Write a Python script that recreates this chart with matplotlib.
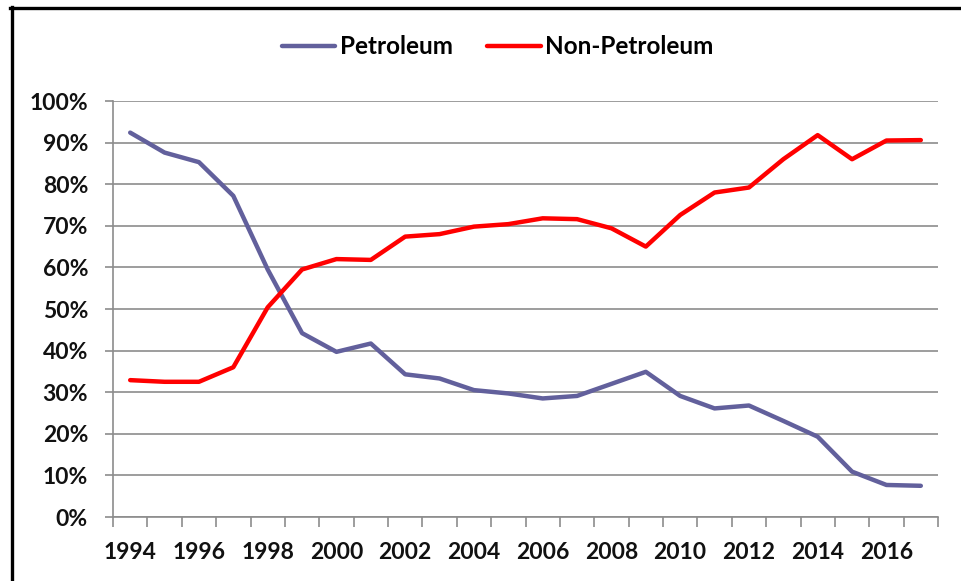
import matplotlib
matplotlib.use("Agg")
import matplotlib.pyplot as plt
from matplotlib.lines import Line2D
from matplotlib.ticker import FixedLocator, NullFormatter

years = list(range(1994, 2018))
petroleum = [92.4, 87.6, 85.3, 77.2, 59.5, 44.2, 39.7, 41.7, 34.3, 33.3, 30.5, 29.7,
             28.5, 29.1, 32.0, 34.9, 29.1, 26.1, 26.8, 23.1, 19.3, 10.9, 7.7, 7.5]
non_petroleum = [32.9, 32.5, 32.5, 36.0, 50.4, 59.5, 62.0, 61.8, 67.4, 68.0, 69.8, 70.4,
                 71.8, 71.6, 69.4, 65.0, 72.6, 78.0, 79.2, 86.0, 91.8, 86.0, 90.5, 90.6]
y_ticks = list(range(0, 101, 10))
y_tick_labels = [f"{v}%" for v in y_ticks]
x_label_years = years[::2]

plt.rcParams['font.family'] = ['Lato', 'DejaVu Sans']
plt.rcParams['font.weight'] = 'bold'

fig = plt.figure(figsize=(9.61, 5.81), dpi=100)
ax = fig.add_axes([113/961, 1 - 517/581, (938 - 113)/961, (517 - 101)/581])

xs = list(range(len(years)))
ax.plot(xs, petroleum, color='#62609C', lw=3.2, label='Petroleum', solid_capstyle='round', zorder=3)
ax.plot(xs, non_petroleum, color='#FF0000', lw=3.2, label='Non-Petroleum', solid_capstyle='round', zorder=3)

ax.set_xlim(-0.5, len(years) - 0.5)
ax.set_ylim(0, 100)

grid_c = '#8C8C8C'
ax.set_yticks(y_ticks)
ax.set_yticklabels(y_tick_labels, fontsize=16.5, fontweight='bold', color='#111111')
ax.yaxis.grid(True, color=grid_c, lw=1.2)
ax.tick_params(axis='y', length=6, width=1.2, color=grid_c, pad=12)

# category boundaries as major ticks (marks), labels at centers as minor ticks
ax.xaxis.set_major_locator(FixedLocator([i - 0.5 for i in range(len(years) + 1)]))
ax.xaxis.set_major_formatter(NullFormatter())
ax.xaxis.set_minor_locator(FixedLocator([years.index(y) for y in x_label_years]))
ax.set_xticklabels([str(y) for y in x_label_years], minor=True, fontsize=16.5,
                   fontweight='bold', color='#111111')
ax.tick_params(axis='x', which='major', length=7, width=1.2, color=grid_c)
ax.tick_params(axis='x', which='minor', length=0, pad=18)

for s in ['top', 'right']:
    ax.spines[s].set_visible(False)
for s in ['left', 'bottom']:
    ax.spines[s].set_color(grid_c)
    ax.spines[s].set_linewidth(1.2)
ax.set_axisbelow(True)

fig.legend(loc='center', bbox_to_anchor=(0.518, 1 - 47/581), ncol=2, frameon=False,
           prop={'family': 'Lato', 'weight': 'bold', 'size': 17.5},
           handlelength=2.2, handletextpad=0.2, columnspacing=1.4)

# outer frame (top and left)
fig.add_artist(Line2D([10/961, 1.0], [1 - 7.5/581, 1 - 7.5/581], transform=fig.transFigure,
                      color='black', lw=2.4))
fig.add_artist(Line2D([11.5/961, 11.5/961], [1 - 6.5/581, 0.0], transform=fig.transFigure,
                      color='black', lw=2.4))

fig.savefig('out.png', dpi=100)
